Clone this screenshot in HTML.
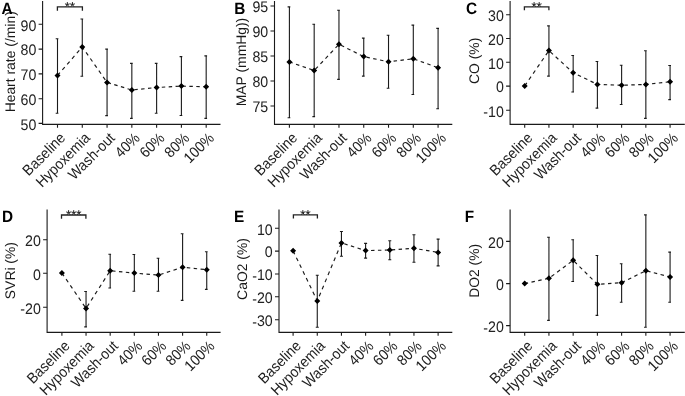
<!DOCTYPE html>
<html><head><meta charset="utf-8"><style>
html,body{margin:0;padding:0;background:#fff;overflow:hidden;}
svg{display:block;will-change:transform;}
text{font-family:"Liberation Sans",sans-serif;text-rendering:geometricPrecision;}
.ax{stroke:#1a1a1a;stroke-width:1.1;fill:none;}
.eb{stroke:#1a1a1a;stroke-width:1.1;fill:none;}
.br{stroke:#222;stroke-width:1.3;fill:none;}
.dl{stroke:#1a1a1a;stroke-width:1.15;fill:none;}
.pt{fill:#000;}
.tl{font-size:14.2px;fill:#222;text-anchor:end;}
.xl{font-size:13.9px;fill:#222;text-anchor:end;}
.yt{font-size:13.9px;fill:#1a1a1a;text-anchor:middle;}
.lt{font-size:16.5px;font-weight:bold;fill:#000;}
.st{fill:none;stroke:#222;stroke-width:1.0;}
</style></head><body>
<svg width="685" height="396" viewBox="0 0 685 396">
<rect width="685" height="396" fill="#fff"/>
<path class="ax" d="M42.6 1V124.4H220.5"/>
<text class="tl" transform="translate(36.3 30.6) scale(1 1.08)">90</text>
<text class="tl" transform="translate(36.3 55.4) scale(1 1.08)">80</text>
<text class="tl" transform="translate(36.3 80.2) scale(1 1.08)">70</text>
<text class="tl" transform="translate(36.3 105) scale(1 1.08)">60</text>
<text class="tl" transform="translate(36.3 129.7) scale(1 1.08)">50</text>
<text class="xl" transform="translate(66.3 138.9) rotate(-45) scale(1 1.08)">Baseline</text>
<text class="xl" transform="translate(91.08 138.9) rotate(-45) scale(1 1.08)">Hypoxemia</text>
<text class="xl" transform="translate(115.86 138.9) rotate(-45) scale(1 1.08)">Wash-out</text>
<text class="xl" transform="translate(140.64 138.9) rotate(-45) scale(1 1.08)">40%</text>
<text class="xl" transform="translate(165.42 138.9) rotate(-45) scale(1 1.08)">60%</text>
<text class="xl" transform="translate(190.2 138.9) rotate(-45) scale(1 1.08)">80%</text>
<text class="xl" transform="translate(214.98 138.9) rotate(-45) scale(1 1.08)">100%</text>
<path class="ax" d="M38.6 24.3H42.6M38.6 49.1H42.6M38.6 73.9H42.6M38.6 98.7H42.6M38.6 123.4H42.6M57.5 124.4V127.7M82.28 124.4V127.7M107.06 124.4V127.7M131.84 124.4V127.7M156.62 124.4V127.7M181.4 124.4V127.7M206.18 124.4V127.7"/>
<path class="dl" d="M57.5 75.4L82.28 47" stroke-dasharray="3.68 3.68" stroke-dashoffset="0"/>
<path class="dl" d="M82.28 47L107.06 82.4" stroke-dasharray="3.73 3.73" stroke-dashoffset="0.91"/>
<path class="dl" d="M107.06 82.4L131.84 90" stroke-dasharray="3.48 3.48" stroke-dashoffset="6.41"/>
<path class="dl" d="M131.84 90L156.62 87.5" stroke-dasharray="3.45 3.45" stroke-dashoffset="4.44"/>
<path class="dl" d="M156.62 87.5L181.4 86.1" stroke-dasharray="3.45 3.45" stroke-dashoffset="1.71"/>
<path class="dl" d="M181.4 86.1L206.18 86.8" stroke-dasharray="3.45 3.45" stroke-dashoffset="5.82"/>
<path class="eb" d="M57.5 38.7V113.3M55.7 38.7H58.4M55.7 113.3H58.4M82.28 19V76.2M80.48 19H83.18M80.48 76.2H83.18M107.06 49.1V115.6M105.26 49.1H107.96M105.26 115.6H107.96M131.84 63.4V118.4M130.04 63.4H132.74M130.04 118.4H132.74M156.62 63.4V113.2M154.82 63.4H157.52M154.82 113.2H157.52M181.4 56.6V115.5M179.6 56.6H182.3M179.6 115.5H182.3M206.18 55.9V118.4M204.38 55.9H207.08M204.38 118.4H207.08"/>
<path class="pt" d="M57.5 72.4L60.5 75.4L57.5 78.4L54.5 75.4ZM82.28 44L85.28 47L82.28 50L79.28 47ZM107.06 79.4L110.06 82.4L107.06 85.4L104.06 82.4ZM131.84 87L134.84 90L131.84 93L128.84 90ZM156.62 84.5L159.62 87.5L156.62 90.5L153.62 87.5ZM181.4 83.1L184.4 86.1L181.4 89.1L178.4 86.1ZM206.18 83.8L209.18 86.8L206.18 89.8L203.18 86.8Z"/>
<path class="br" d="M57.4 10.7V6.9H82.4V10.7"/>
<path class="st" d="M67.35 4.6L67.35 2.1M67.35 4.6L69.73 3.83M67.35 4.6L64.97 3.83M67.35 4.6L68.82 6.62M67.35 4.6L65.88 6.62M72.45 4.6L72.45 2.1M72.45 4.6L74.83 3.83M72.45 4.6L70.07 3.83M72.45 4.6L73.92 6.62M72.45 4.6L70.98 6.62"/>
<text class="yt" transform="translate(14.5 61.8) rotate(-90) scale(1 1.0)">Heart rate (/min)</text>
<text class="lt" transform="translate(1.6 13.6) scale(0.93 1)">A</text>
<path class="ax" d="M274.5 1V124.4H452.3"/>
<text class="tl" transform="translate(268.2 12.3) scale(1 1.08)">95</text>
<text class="tl" transform="translate(268.2 37.3) scale(1 1.08)">90</text>
<text class="tl" transform="translate(268.2 62.3) scale(1 1.08)">85</text>
<text class="tl" transform="translate(268.2 87.3) scale(1 1.08)">80</text>
<text class="tl" transform="translate(268.2 112.3) scale(1 1.08)">75</text>
<text class="xl" transform="translate(298.2 138.9) rotate(-45) scale(1 1.08)">Baseline</text>
<text class="xl" transform="translate(322.98 138.9) rotate(-45) scale(1 1.08)">Hypoxemia</text>
<text class="xl" transform="translate(347.76 138.9) rotate(-45) scale(1 1.08)">Wash-out</text>
<text class="xl" transform="translate(372.54 138.9) rotate(-45) scale(1 1.08)">40%</text>
<text class="xl" transform="translate(397.32 138.9) rotate(-45) scale(1 1.08)">60%</text>
<text class="xl" transform="translate(422.1 138.9) rotate(-45) scale(1 1.08)">80%</text>
<text class="xl" transform="translate(446.88 138.9) rotate(-45) scale(1 1.08)">100%</text>
<path class="ax" d="M270.5 6H274.5M270.5 31H274.5M270.5 56H274.5M270.5 81H274.5M270.5 106H274.5M289.4 124.4V127.7M314.18 124.4V127.7M338.96 124.4V127.7M363.74 124.4V127.7M388.52 124.4V127.7M413.3 124.4V127.7M438.08 124.4V127.7"/>
<path class="dl" d="M289.4 61.9L314.18 70.5" stroke-dasharray="3.49 3.49" stroke-dashoffset="0"/>
<path class="dl" d="M314.18 70.5L338.96 44.3" stroke-dasharray="3.66 3.66" stroke-dashoffset="5.55"/>
<path class="dl" d="M338.96 44.3L363.74 56.6" stroke-dasharray="3.52 3.52" stroke-dashoffset="4.81"/>
<path class="dl" d="M363.74 56.6L388.52 61.8" stroke-dasharray="3.47 3.47" stroke-dashoffset="4.2"/>
<path class="dl" d="M388.52 61.8L413.3 58.8" stroke-dasharray="3.46 3.46" stroke-dashoffset="1.79"/>
<path class="dl" d="M413.3 58.8L438.08 67.7" stroke-dasharray="3.49 3.49" stroke-dashoffset="6.09"/>
<path class="eb" d="M289.4 6.9V117.8M287.6 6.9H290.3M287.6 117.8H290.3M314.18 24.3V116.6M312.38 24.3H315.08M312.38 116.6H315.08M338.96 10.3V79.4M337.16 10.3H339.86M337.16 79.4H339.86M363.74 38.1V76.1M361.94 38.1H364.64M361.94 76.1H364.64M388.52 35.3V88.2M386.72 35.3H389.42M386.72 88.2H389.42M413.3 25.1V94.5M411.5 25.1H414.2M411.5 94.5H414.2M438.08 28.4V108.8M436.28 28.4H438.98M436.28 108.8H438.98"/>
<path class="pt" d="M289.4 58.9L292.4 61.9L289.4 64.9L286.4 61.9ZM314.18 67.5L317.18 70.5L314.18 73.5L311.18 70.5ZM338.96 41.3L341.96 44.3L338.96 47.3L335.96 44.3ZM363.74 53.6L366.74 56.6L363.74 59.6L360.74 56.6ZM388.52 58.8L391.52 61.8L388.52 64.8L385.52 61.8ZM413.3 55.8L416.3 58.8L413.3 61.8L410.3 58.8ZM438.08 64.7L441.08 67.7L438.08 70.7L435.08 67.7Z"/>
<text class="yt" transform="translate(246.3 62) rotate(-90) scale(1 1.0)">MAP (mmHg))</text>
<text class="lt" transform="translate(234.2 13.6) scale(0.93 1)">B</text>
<path class="ax" d="M510.1 1V124.4H684.8"/>
<text class="tl" transform="translate(503.8 21.1) scale(1 1.08)">30</text>
<text class="tl" transform="translate(503.8 44.8) scale(1 1.08)">20</text>
<text class="tl" transform="translate(503.8 68.5) scale(1 1.08)">10</text>
<text class="tl" transform="translate(503.8 92.4) scale(1 1.08)">0</text>
<text class="tl" transform="translate(503.8 116.5) scale(1 1.08)"><tspan dy="0.8">-</tspan><tspan dy="-0.8">10</tspan></text>
<text class="xl" transform="translate(533.5 138.9) rotate(-45) scale(1 1.08)">Baseline</text>
<text class="xl" transform="translate(557.73 138.9) rotate(-45) scale(1 1.08)">Hypoxemia</text>
<text class="xl" transform="translate(581.96 138.9) rotate(-45) scale(1 1.08)">Wash-out</text>
<text class="xl" transform="translate(606.19 138.9) rotate(-45) scale(1 1.08)">40%</text>
<text class="xl" transform="translate(630.42 138.9) rotate(-45) scale(1 1.08)">60%</text>
<text class="xl" transform="translate(654.65 138.9) rotate(-45) scale(1 1.08)">80%</text>
<text class="xl" transform="translate(678.88 138.9) rotate(-45) scale(1 1.08)">100%</text>
<path class="ax" d="M506.1 14.8H510.1M506.1 38.5H510.1M506.1 62.2H510.1M506.1 86.1H510.1M506.1 110.2H510.1M524.7 124.4V127.7M548.93 124.4V127.7M573.16 124.4V127.7M597.39 124.4V127.7M621.62 124.4V127.7M645.85 124.4V127.7M670.08 124.4V127.7"/>
<path class="dl" d="M524.7 85.9L548.93 50.6" stroke-dasharray="3.73 3.73" stroke-dashoffset="0"/>
<path class="dl" d="M548.93 50.6L573.16 72.8" stroke-dasharray="3.63 3.63" stroke-dashoffset="5.37"/>
<path class="dl" d="M573.16 72.8L597.39 84.4" stroke-dasharray="3.52 3.52" stroke-dashoffset="1.86"/>
<path class="dl" d="M597.39 84.4L621.62 85.3" stroke-dasharray="3.45 3.45" stroke-dashoffset="0.55"/>
<path class="dl" d="M621.62 85.3L645.85 84.4" stroke-dasharray="3.45 3.45" stroke-dashoffset="4.1"/>
<path class="dl" d="M645.85 84.4L670.08 81.8" stroke-dasharray="3.45 3.45" stroke-dashoffset="0.74"/>
<path class="eb" d="M548.93 25.9V76.1M547.13 25.9H549.83M547.13 76.1H549.83M573.16 55.5V92M571.36 55.5H574.06M571.36 92H574.06M597.39 61.5V108.1M595.59 61.5H598.29M595.59 108.1H598.29M621.62 65.2V104.5M619.82 65.2H622.52M619.82 104.5H622.52M645.85 50.7V118.4M644.05 50.7H646.75M644.05 118.4H646.75M670.08 65.5V99.6M668.28 65.5H670.98M668.28 99.6H670.98"/>
<path class="pt" d="M524.7 82.9L527.7 85.9L524.7 88.9L521.7 85.9ZM548.93 47.6L551.93 50.6L548.93 53.6L545.93 50.6ZM573.16 69.8L576.16 72.8L573.16 75.8L570.16 72.8ZM597.39 81.4L600.39 84.4L597.39 87.4L594.39 84.4ZM621.62 82.3L624.62 85.3L621.62 88.3L618.62 85.3ZM645.85 81.4L648.85 84.4L645.85 87.4L642.85 84.4ZM670.08 78.8L673.08 81.8L670.08 84.8L667.08 81.8Z"/>
<path class="br" d="M524.4 10.2V6.9H548.9V10.2"/>
<path class="st" d="M534.1 4.6L534.1 2.1M534.1 4.6L536.48 3.83M534.1 4.6L531.72 3.83M534.1 4.6L535.57 6.62M534.1 4.6L532.63 6.62M539.2 4.6L539.2 2.1M539.2 4.6L541.58 3.83M539.2 4.6L536.82 3.83M539.2 4.6L540.67 6.62M539.2 4.6L537.73 6.62"/>
<text class="yt" transform="translate(478.5 60.8) rotate(-90) scale(1 1.0)">CO (%)</text>
<text class="lt" transform="translate(466 13.6) scale(0.93 1)">C</text>
<path class="ax" d="M47.1 209.5V332.4H220.6"/>
<text class="tl" transform="translate(40.8 246.1) scale(1 1.08)">20</text>
<text class="tl" transform="translate(40.8 279.6) scale(1 1.08)">0</text>
<text class="tl" transform="translate(40.8 313.5) scale(1 1.08)"><tspan dy="0.8">-</tspan><tspan dy="-0.8">20</tspan></text>
<text class="xl" transform="translate(70.7 346.9) rotate(-45) scale(1 1.08)">Baseline</text>
<text class="xl" transform="translate(94.84 346.9) rotate(-45) scale(1 1.08)">Hypoxemia</text>
<text class="xl" transform="translate(118.98 346.9) rotate(-45) scale(1 1.08)">Wash-out</text>
<text class="xl" transform="translate(143.12 346.9) rotate(-45) scale(1 1.08)">40%</text>
<text class="xl" transform="translate(167.26 346.9) rotate(-45) scale(1 1.08)">60%</text>
<text class="xl" transform="translate(191.4 346.9) rotate(-45) scale(1 1.08)">80%</text>
<text class="xl" transform="translate(215.54 346.9) rotate(-45) scale(1 1.08)">100%</text>
<path class="ax" d="M43.1 239.8H47.1M43.1 273.3H47.1M43.1 307.2H47.1M61.9 332.4V335.7M86.04 332.4V335.7M110.18 332.4V335.7M134.32 332.4V335.7M158.46 332.4V335.7M182.6 332.4V335.7M206.74 332.4V335.7"/>
<path class="dl" d="M61.9 273L86.04 308.4" stroke-dasharray="3.73 3.73" stroke-dashoffset="0"/>
<path class="dl" d="M86.04 308.4L110.18 270.7" stroke-dasharray="3.74 3.74" stroke-dashoffset="5.55"/>
<path class="dl" d="M110.18 270.7L134.32 273.1" stroke-dasharray="3.45 3.45" stroke-dashoffset="4.97"/>
<path class="dl" d="M134.32 273.1L158.46 275.1" stroke-dasharray="3.45 3.45" stroke-dashoffset="1.6"/>
<path class="dl" d="M158.46 275.1L182.6 267.2" stroke-dasharray="3.49 3.49" stroke-dashoffset="5.16"/>
<path class="dl" d="M182.6 267.2L206.74 269.7" stroke-dasharray="3.45 3.45" stroke-dashoffset="2.65"/>
<path class="eb" d="M86.04 291.5V326.9M84.24 291.5H86.94M84.24 326.9H86.94M110.18 254.3V288M108.38 254.3H111.08M108.38 288H111.08M134.32 254.5V291.3M132.52 254.5H135.22M132.52 291.3H135.22M158.46 258.2V291.3M156.66 258.2H159.36M156.66 291.3H159.36M182.6 233.7V300.4M180.8 233.7H183.5M180.8 300.4H183.5M206.74 251.8V289.4M204.94 251.8H207.64M204.94 289.4H207.64"/>
<path class="pt" d="M61.9 270L64.9 273L61.9 276L58.9 273ZM86.04 305.4L89.04 308.4L86.04 311.4L83.04 308.4ZM110.18 267.7L113.18 270.7L110.18 273.7L107.18 270.7ZM134.32 270.1L137.32 273.1L134.32 276.1L131.32 273.1ZM158.46 272.1L161.46 275.1L158.46 278.1L155.46 275.1ZM182.6 264.2L185.6 267.2L182.6 270.2L179.6 267.2ZM206.74 266.7L209.74 269.7L206.74 272.7L203.74 269.7Z"/>
<path class="br" d="M61.5 218.8V215H85.9V218.8"/>
<path class="st" d="M68.6 212.7L68.6 210.2M68.6 212.7L70.98 211.93M68.6 212.7L66.22 211.93M68.6 212.7L70.07 214.72M68.6 212.7L67.13 214.72M73.7 212.7L73.7 210.2M73.7 212.7L76.08 211.93M73.7 212.7L71.32 211.93M73.7 212.7L75.17 214.72M73.7 212.7L72.23 214.72M78.8 212.7L78.8 210.2M78.8 212.7L81.18 211.93M78.8 212.7L76.42 211.93M78.8 212.7L80.27 214.72M78.8 212.7L77.33 214.72"/>
<text class="yt" transform="translate(14.8 270.6) rotate(-90) scale(1 1.0)">SVRi (%)</text>
<text class="lt" transform="translate(2 221.6) scale(0.93 1)">D</text>
<path class="ax" d="M279 209.5V332.4H452.3"/>
<text class="tl" transform="translate(272.7 234.6) scale(1 1.08)">10</text>
<text class="tl" transform="translate(272.7 257.4) scale(1 1.08)">0</text>
<text class="tl" transform="translate(272.7 280.3) scale(1 1.08)"><tspan dy="0.8">-</tspan><tspan dy="-0.8">10</tspan></text>
<text class="tl" transform="translate(272.7 303.1) scale(1 1.08)"><tspan dy="0.8">-</tspan><tspan dy="-0.8">20</tspan></text>
<text class="tl" transform="translate(272.7 326) scale(1 1.08)"><tspan dy="0.8">-</tspan><tspan dy="-0.8">30</tspan></text>
<text class="xl" transform="translate(301.9 346.9) rotate(-45) scale(1 1.08)">Baseline</text>
<text class="xl" transform="translate(326.07 346.9) rotate(-45) scale(1 1.08)">Hypoxemia</text>
<text class="xl" transform="translate(350.24 346.9) rotate(-45) scale(1 1.08)">Wash-out</text>
<text class="xl" transform="translate(374.41 346.9) rotate(-45) scale(1 1.08)">40%</text>
<text class="xl" transform="translate(398.58 346.9) rotate(-45) scale(1 1.08)">60%</text>
<text class="xl" transform="translate(422.75 346.9) rotate(-45) scale(1 1.08)">80%</text>
<text class="xl" transform="translate(446.92 346.9) rotate(-45) scale(1 1.08)">100%</text>
<path class="ax" d="M275 228.3H279M275 251.1H279M275 274H279M275 296.8H279M275 319.7H279M293.1 332.4V335.7M317.27 332.4V335.7M341.44 332.4V335.7M365.61 332.4V335.7M389.78 332.4V335.7M413.95 332.4V335.7M438.12 332.4V335.7"/>
<path class="dl" d="M293.1 250.8L317.27 300.9" stroke-dasharray="3.79 3.79" stroke-dashoffset="0"/>
<path class="dl" d="M317.27 300.9L341.44 242.9" stroke-dasharray="3.81 3.81" stroke-dashoffset="2.54"/>
<path class="dl" d="M341.44 242.9L365.61 250.6" stroke-dasharray="3.48 3.48" stroke-dashoffset="4"/>
<path class="dl" d="M365.61 250.6L389.78 250" stroke-dasharray="3.45 3.45" stroke-dashoffset="1.47"/>
<path class="dl" d="M389.78 250L413.95 248.3" stroke-dasharray="3.45 3.45" stroke-dashoffset="4.95"/>
<path class="dl" d="M413.95 248.3L438.12 252.4" stroke-dasharray="3.46 3.46" stroke-dashoffset="1.57"/>
<path class="eb" d="M317.27 275.2V327.3M315.77 275.2H318.77M315.77 327.3H318.77M341.44 231.5V256.3M339.94 231.5H342.94M339.94 256.3H342.94M365.61 243.4V258.1M364.11 243.4H367.11M364.11 258.1H367.11M389.78 240.8V259.7M388.28 240.8H391.28M388.28 259.7H391.28M413.95 234.7V262.3M412.45 234.7H415.45M412.45 262.3H415.45M438.12 239.1V265.9M436.62 239.1H439.62M436.62 265.9H439.62"/>
<path class="pt" d="M293.1 247.8L296.1 250.8L293.1 253.8L290.1 250.8ZM317.27 297.9L320.27 300.9L317.27 303.9L314.27 300.9ZM341.44 239.9L344.44 242.9L341.44 245.9L338.44 242.9ZM365.61 247.6L368.61 250.6L365.61 253.6L362.61 250.6ZM389.78 247L392.78 250L389.78 253L386.78 250ZM413.95 245.3L416.95 248.3L413.95 251.3L410.95 248.3ZM438.12 249.4L441.12 252.4L438.12 255.4L435.12 252.4Z"/>
<path class="br" d="M293.4 218.5V214.9H317.4V218.5"/>
<path class="st" d="M302.85 212.6L302.85 210.1M302.85 212.6L305.23 211.83M302.85 212.6L300.47 211.83M302.85 212.6L304.32 214.62M302.85 212.6L301.38 214.62M307.95 212.6L307.95 210.1M307.95 212.6L310.33 211.83M307.95 212.6L305.57 211.83M307.95 212.6L309.42 214.62M307.95 212.6L306.48 214.62"/>
<text class="yt" transform="translate(247 269) rotate(-90) scale(1 1.0)">CaO2 (%)</text>
<text class="lt" transform="translate(234 221.6) scale(0.93 1)">E</text>
<path class="ax" d="M510.1 209.5V332.4H684.8"/>
<text class="tl" transform="translate(503.8 247.7) scale(1 1.08)">20</text>
<text class="tl" transform="translate(503.8 289.9) scale(1 1.08)">0</text>
<text class="tl" transform="translate(503.8 331.9) scale(1 1.08)"><tspan dy="0.8">-</tspan><tspan dy="-0.8">20</tspan></text>
<text class="xl" transform="translate(533.5 346.9) rotate(-45) scale(1 1.08)">Baseline</text>
<text class="xl" transform="translate(557.73 346.9) rotate(-45) scale(1 1.08)">Hypoxemia</text>
<text class="xl" transform="translate(581.96 346.9) rotate(-45) scale(1 1.08)">Wash-out</text>
<text class="xl" transform="translate(606.19 346.9) rotate(-45) scale(1 1.08)">40%</text>
<text class="xl" transform="translate(630.42 346.9) rotate(-45) scale(1 1.08)">60%</text>
<text class="xl" transform="translate(654.65 346.9) rotate(-45) scale(1 1.08)">80%</text>
<text class="xl" transform="translate(678.88 346.9) rotate(-45) scale(1 1.08)">100%</text>
<path class="ax" d="M506.1 241.4H510.1M506.1 283.6H510.1M506.1 325.6H510.1M524.7 332.4V335.7M548.93 332.4V335.7M573.16 332.4V335.7M597.39 332.4V335.7M621.62 332.4V335.7M645.85 332.4V335.7M670.08 332.4V335.7"/>
<path class="dl" d="M524.7 283.6L548.93 278.3" stroke-dasharray="3.47 3.47" stroke-dashoffset="0"/>
<path class="dl" d="M548.93 278.3L573.16 260.3" stroke-dasharray="3.59 3.59" stroke-dashoffset="4.14"/>
<path class="dl" d="M573.16 260.3L597.39 284.3" stroke-dasharray="3.65 3.65" stroke-dashoffset="5.71"/>
<path class="dl" d="M597.39 284.3L621.62 282.7" stroke-dasharray="3.45 3.45" stroke-dashoffset="3.16"/>
<path class="dl" d="M621.62 282.7L645.85 270.7" stroke-dasharray="3.52 3.52" stroke-dashoffset="6.88"/>
<path class="dl" d="M645.85 270.7L670.08 276.9" stroke-dasharray="3.47 3.47" stroke-dashoffset="5.64"/>
<path class="eb" d="M548.93 237.3V320.4M547.13 237.3H549.83M547.13 320.4H549.83M573.16 239.8V281.5M571.36 239.8H574.06M571.36 281.5H574.06M597.39 255.5V315.4M595.59 255.5H598.29M595.59 315.4H598.29M621.62 263.8V302.2M619.82 263.8H622.52M619.82 302.2H622.52M645.85 214.9V327.3M644.05 214.9H646.75M644.05 327.3H646.75M670.08 252.1V302.2M668.28 252.1H670.98M668.28 302.2H670.98"/>
<path class="pt" d="M524.7 280.6L527.7 283.6L524.7 286.6L521.7 283.6ZM548.93 275.3L551.93 278.3L548.93 281.3L545.93 278.3ZM573.16 257.3L576.16 260.3L573.16 263.3L570.16 260.3ZM597.39 281.3L600.39 284.3L597.39 287.3L594.39 284.3ZM621.62 279.7L624.62 282.7L621.62 285.7L618.62 282.7ZM645.85 267.7L648.85 270.7L645.85 273.7L642.85 270.7ZM670.08 273.9L673.08 276.9L670.08 279.9L667.08 276.9Z"/>
<text class="yt" transform="translate(479 270.8) rotate(-90) scale(1 1.0)">DO2 (%)</text>
<text class="lt" transform="translate(464.8 221.6) scale(0.93 1)">F</text>
</svg>
</body></html>
